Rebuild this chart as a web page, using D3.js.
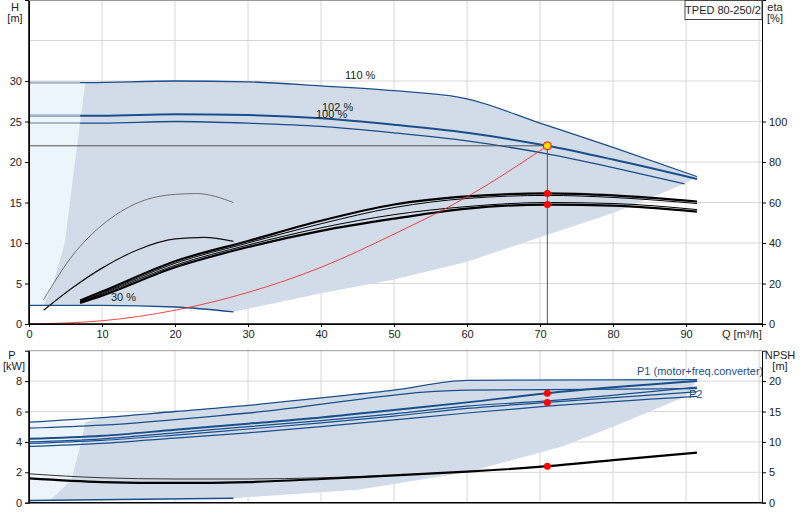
<!DOCTYPE html>
<html><head><meta charset="utf-8">
<script src="https://cdn.jsdelivr.net/npm/d3@7"></script>
<style>body{margin:0;background:#fff}text{font-family:"Liberation Sans",Arial,sans-serif;font-size:11px;fill:#222}</style>
</head><body><div id="chart"></div>
<script>
// Q values [m3/h] and curves
var q110 = [0, 8, 20, 30, 40, 50, 60, 70, 80, 91.5];
var h110 = [29.8, 29.8, 30, 29.9, 29.4, 28.8, 27.8, 24.8, 21.8, 18.2];
var q102 = [0, 10, 20, 30, 40, 50, 60, 71, 80, 91.5];
var h102 = [25.7, 25.7, 25.9, 25.8, 25.4, 24.6, 23.6, 22, 20.3, 17.9];
var q100 = [0, 10, 20, 30, 40, 50, 60, 71, 80, 89.8];
var h100 = [24.8, 24.8, 25, 24.8, 24.4, 23.6, 22.6, 21, 19.3, 17.3];
var q30 = [0, 10, 20, 28];
var h30 = [2.3, 2.3, 2.1, 1.5];
var qSpeedA = [2, 6, 10, 15, 20, 23, 28];
var hSpeedA = [3, 8.5, 12.2, 15, 16, 16.1, 15];
var qSpeedB = [2, 6, 10, 15, 20, 24, 28];
var hSpeedB = [1.7, 4.5, 6.9, 9.2, 10.5, 10.7, 10.2];
var qEta = [7, 10, 20, 30, 40, 50, 60, 71, 80, 91.5];
var etaUpper = [11.6, 16, 31, 41, 51, 59, 63, 64.5, 63.5, 60.5];
var etaUpper2 = [11, 15.2, 30, 40, 49.5, 57.5, 62, 63.5, 62.5, 59.5];
var etaLower2 = [10.8, 14.8, 29, 39, 47.5, 54, 58, 60, 59.5, 56.5];
var etaLower = [10.4, 14, 28, 38, 46, 52, 57, 59, 58.5, 55.5];
var qSys = [0, 10, 20, 30, 40, 50, 60, 71];
var hSys = [0, 0.4, 1.7, 3.9, 7, 11.1, 15.7, 22];
var qEdgeL = [2, 3.3, 4.9, 5.6, 6.3, 7, 7.7];
var hEdgeL = [2.3, 5, 10, 15, 20, 25, 29.8];
var qEdgeLow = [89.8, 80, 70, 60, 50, 40, 28];
var hEdgeLow = [17.3, 13.7, 10.7, 7.7, 5.5, 3.8, 1.5];
var dutyQ = 71, dutyH = 22;
var dutyEta = [64.5, 59];

var qP1max = [0, 10, 20, 30, 40, 50, 60, 91.5];
var pP1max = [5.3, 5.6, 6.0, 6.4, 6.9, 7.4, 8.05, 8.1];
var qP2max = [0, 10, 30, 60, 91.5];
var pP2max = [4.9, 5.1, 5.9, 7.4, 7.5];
var qP = [0, 10, 20, 30, 40, 50, 60, 71, 91.5];
var pP1a = [4.2, 4.4, 4.8, 5.2, 5.6, 6.1, 6.6, 7.2, 8.0];
var pP1b = [4.0, 4.2, 4.6, 5.0, 5.4, 5.85, 6.35, 6.7, 7.6];
var pP2a = [3.9, 4.1, 4.45, 4.85, 5.25, 5.7, 6.2, 6.6, 7.3];
var pP2b = [3.7, 3.9, 4.25, 4.6, 5.0, 5.45, 5.9, 6.35, 7.0];
var qNpsh = [0, 10, 20, 30, 40, 50, 60, 71, 80, 91.5];
var nNpsh = [4.0, 3.4, 3.25, 3.4, 3.9, 4.5, 5.1, 6.0, 7.0, 8.25];
var qNpsh2 = [0, 10, 20, 30, 40, 50];
var nNpsh2 = [4.75, 4.1, 3.9, 3.9, 4.1, 4.5];
var qP30 = [0, 28];
var pP30 = [0.15, 0.3];
var qPEdgeL = [3, 5.8, 7.2, 7.7];
var pPEdgeL = [0.2, 1.5, 4.1, 5.3];
var qPEdgeLow = [90, 80, 73, 60, 45, 28];
var pPEdgeLow = [7.0, 5.0, 3.7, 2.0, 0.85, 0.3];
var dutyP = [7.2, 6.6];
var dutyNpsh = 6.0;

var qTicks = [0, 10, 20, 30, 40, 50, 60, 70, 80, 90];
var hTicks = [0, 5, 10, 15, 20, 25, 30];
var etaTicks = [0, 20, 40, 60, 80, 100];
var pTicks = [0, 2, 4, 6, 8];
var npshTicks = [0, 5, 10, 15, 20];

var blue = "#1b4f8c", shade = "#d1dce8", light = "#ecf4fc", grid = "#d6d6d6";
var svg = d3.select("#chart").append("svg").attr("width", 800).attr("height", 520);

var x = d3.scaleLinear().domain([0, 100.4]).range([29, 762]);
var yH = d3.scaleLinear().domain([0, 40]).range([324, 0]);
var yEta = d3.scaleLinear().domain([0, 160]).range([324, 0]);
var yP = d3.scaleLinear().domain([0, 10]).range([502.7, 350.7]);
var yN = d3.scaleLinear().domain([0, 25]).range([502.7, 350.7]);

function pts(qs, vs) { return qs.map(function(q, i) { return [q, vs[i]]; }); }
function line(y) { return d3.line().x(function(d) { return x(d[0]); }).y(function(d) { return y(d[1]); }).curve(d3.curveMonotoneX); }
function poly(y) { return d3.line().x(function(d) { return x(d[0]); }).y(function(d) { return y(d[1]); }); }
function draw(g, y, data, color, w) {
    g.append("path").attr("fill", "none").attr("stroke", color).attr("stroke-width", w).attr("d", line(y)(data));
}

function panel(y0, y1) {
    var g = svg.append("g");
    g.selectAll(".gx").data(qTicks.concat([100])).enter().append("line")
        .attr("x1", function(d) { return x(d); }).attr("x2", function(d) { return x(d); })
        .attr("y1", y0).attr("y2", y1).attr("stroke", grid);
    return g;
}

// ---------- top panel ----------
var topG = panel(0, 324);
var hGrid = [5, 10, 15, 20, 25, 30, 35];
topG.selectAll(".gy").data(hGrid).enter().append("line")
    .attr("x1", 29).attr("x2", 762).attr("y1", function(d) { return yH(d); }).attr("y2", function(d) { return yH(d); }).attr("stroke", grid);

// light left area and shaded operating area
var lightArea = [[0, 2.3]].concat(pts(qEdgeL, hEdgeL)).concat([[0, 29.8]]);
topG.append("path").attr("fill", light).attr("d", poly(yH)(lightArea) + "Z");
var area = pts(qEdgeL, hEdgeL)
    .concat(pts(q110, h110).filter(function(d) { return d[0] > 7.7; }))
    .concat(pts(qEdgeLow, hEdgeLow))
    .concat(pts(q30, h30).reverse().filter(function(d) { return d[0] > 2; }));
topG.append("path").attr("fill", shade).attr("d", poly(yH)(area) + "Z");

draw(topG, yH, pts(q110, h110), blue, 1.3);
draw(topG, yH, pts(q102, h102), blue, 2);
draw(topG, yH, pts(q100, h100), blue, 1.3);
draw(topG, yH, pts(q30, h30), blue, 1.3);
// faded part of curves left of area
[h110[0], h102[0], h100[0]].forEach(function(h) {
    draw(topG, yH, [[0, h], [7, h]], "#a9b8c8", 2);
});
draw(topG, yH, pts(qSpeedA, hSpeedA), "#555", 0.8);
draw(topG, yH, pts(qSpeedB, hSpeedB), "#111", 1.2);
var etaLine = d3.line().x(function(d) { return x(d[0]); }).y(function(d) { return yEta(d[1]); }).curve(d3.curveMonotoneX);
[[etaUpper, 2.2], [etaUpper2, 1], [etaLower2, 1], [etaLower, 2.2]].forEach(function(e) {
    topG.append("path").attr("fill", "none").attr("stroke", "#000").attr("stroke-width", e[1]).attr("d", etaLine(pts(qEta, e[0])));
});
draw(topG, yH, pts(qSys, hSys), "#f03030", 0.9);

// duty point lines
topG.append("line").attr("x1", x(0)).attr("x2", x(dutyQ)).attr("y1", yH(dutyH)).attr("y2", yH(dutyH)).attr("stroke", "#555");
topG.append("line").attr("x1", x(dutyQ)).attr("x2", x(dutyQ)).attr("y1", yH(dutyH)).attr("y2", yH(0)).attr("stroke", "#555");
dutyEta.forEach(function(e) {
    topG.append("circle").attr("cx", x(dutyQ)).attr("cy", yEta(e)).attr("r", 3.5).attr("fill", "#f00");
});
topG.append("circle").attr("cx", x(dutyQ)).attr("cy", yH(dutyH)).attr("r", 4).attr("fill", "#ffe000").attr("stroke", "#f00").attr("stroke-width", 1);

topG.append("text").attr("x", 345).attr("y", 79).text("110 %");
topG.append("text").attr("x", 322).attr("y", 111).text("102 %");
topG.append("text").attr("x", 316).attr("y", 118).text("100 %");
topG.append("text").attr("x", 111).attr("y", 301).text("30 %");

// axes
topG.append("g").attr("transform", "translate(29,0)").call(d3.axisLeft(yH).tickValues(hTicks).tickSize(4).tickFormat(d3.format("d")));
topG.append("g").attr("transform", "translate(762,0)").call(d3.axisRight(yEta).tickValues(etaTicks).tickSize(4).tickFormat(d3.format("d")));
topG.append("g").attr("transform", "translate(0,324)").call(d3.axisBottom(x).tickValues(qTicks).tickSize(3).tickFormat(d3.format("d")));
topG.append("line").attr("x1", 29).attr("x2", 29).attr("y1", 0).attr("y2", 324).attr("stroke", "#000").attr("stroke-width", 1.5);
topG.append("line").attr("x1", 29).attr("x2", 762).attr("y1", 324).attr("y2", 324).attr("stroke", "#000").attr("stroke-width", 1.5);
topG.append("line").attr("x1", 29).attr("x2", 762).attr("y1", 0.5).attr("y2", 0.5).attr("stroke", "#999");
topG.append("rect").attr("x", 685).attr("y", 0.5).attr("width", 77).attr("height", 19).attr("fill", "#fff").attr("stroke", "#444");
topG.append("text").attr("x", 723).attr("y", 14).attr("text-anchor", "middle").text("TPED 80-250/2");
topG.append("text").attr("x", 15).attr("y", 11).attr("text-anchor", "middle").text("H");
topG.append("text").attr("x", 15).attr("y", 22).attr("text-anchor", "middle").text("[m]");
topG.append("text").attr("x", 775).attr("y", 11).attr("text-anchor", "middle").text("eta");
topG.append("text").attr("x", 775).attr("y", 22).attr("text-anchor", "middle").text("[%]");
topG.append("text").attr("x", 722).attr("y", 338).text("Q [m³/h]");

// ---------- bottom panel ----------
var bot = panel(350.7, 502.7);
bot.selectAll(".gy").data([2, 4, 6, 8]).enter().append("line")
    .attr("x1", 29).attr("x2", 762).attr("y1", function(d) { return yP(d); }).attr("y2", function(d) { return yP(d); }).attr("stroke", grid);
var pLight = [[0, 0]].concat(pts(qPEdgeL, pPEdgeL)).concat([[0, 5.3]]);
bot.append("path").attr("fill", light).attr("d", poly(yP)(pLight) + "Z");
var pArea = pts(qPEdgeL, pPEdgeL)
    .concat(pts(qP1max, pP1max).filter(function(d) { return d[0] > 7.7; }))
    .concat(pts(qPEdgeLow, pPEdgeLow))
    .concat([[3, 0.15]]);
bot.append("path").attr("fill", shade).attr("d", poly(yP)(pArea) + "Z");

draw(bot, yP, pts(qP1max, pP1max), blue, 1.3);
draw(bot, yP, pts(qP2max, pP2max), blue, 1.3);
draw(bot, yP, pts(qP, pP1a), blue, 2);
draw(bot, yP, pts(qP, pP1b), blue, 1.2);
draw(bot, yP, pts(qP, pP2a), blue, 1.2);
draw(bot, yP, pts(qP, pP2b), blue, 1.2);
draw(bot, yP, pts(qP30, pP30), blue, 1.5);
draw(bot, yN, pts(qNpsh2, nNpsh2), "#333", 1);
draw(bot, yN, pts(qNpsh, nNpsh), "#000", 2.2);
dutyP.forEach(function(p) {
    bot.append("circle").attr("cx", x(dutyQ)).attr("cy", yP(p)).attr("r", 3.5).attr("fill", "#f00");
});
bot.append("circle").attr("cx", x(dutyQ)).attr("cy", yN(dutyNpsh)).attr("r", 3.5).attr("fill", "#f00");

bot.append("text").attr("x", 637).attr("y", 375).style("fill", blue).text("P1 (motor+freq.converter)");
bot.append("text").attr("x", 689).attr("y", 398).style("fill", blue).text("P2");

bot.append("g").attr("transform", "translate(29,0)").call(d3.axisLeft(yP).tickValues(pTicks).tickSize(4).tickFormat(d3.format("d")));
bot.append("g").attr("transform", "translate(762,0)").call(d3.axisRight(yN).tickValues(npshTicks).tickSize(4).tickFormat(d3.format("d")));
bot.append("line").attr("x1", 29).attr("x2", 29).attr("y1", 350.7).attr("y2", 502.7).attr("stroke", "#000").attr("stroke-width", 1.5);
bot.append("line").attr("x1", 29).attr("x2", 762).attr("y1", 502.7).attr("y2", 502.7).attr("stroke", "#000").attr("stroke-width", 1.5);
bot.append("line").attr("x1", 29).attr("x2", 762).attr("y1", 350.7).attr("y2", 350.7).attr("stroke", "#999");
bot.append("text").attr("x", 12).attr("y", 359).attr("text-anchor", "middle").text("P");
bot.append("text").attr("x", 14).attr("y", 370).attr("text-anchor", "middle").text("[kW]");
bot.append("text").attr("x", 780).attr("y", 359).attr("text-anchor", "middle").text("NPSH");
bot.append("text").attr("x", 780).attr("y", 370).attr("text-anchor", "middle").text("[m]");

svg.selectAll(".tick text").style("font-size", "11px").style("font-family", "Liberation Sans, Arial");
svg.selectAll(".domain").attr("stroke", "#000");
</script></body></html>
